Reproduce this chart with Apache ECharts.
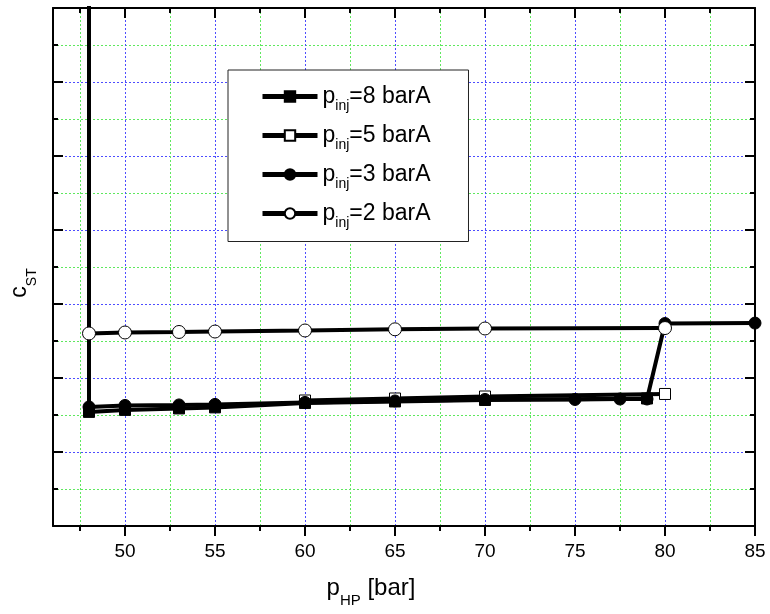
<!DOCTYPE html>
<html>
<head>
<meta charset="utf-8">
<script src="https://cdn.jsdelivr.net/npm/echarts@6/dist/echarts.min.js"></script>
<style>
  html, body { margin: 0; padding: 0; background: #fff; }
  #chart { width: 770px; height: 614px; }
</style>
</head>
<body>
<div id="chart"></div>
<script>
// Injection pressure series: p_HP [bar] against c_ST
const xP8 = [48, 50, 53, 55, 60, 65, 70, 79];
const yP8 = [0.1542, 0.1569, 0.1589, 0.1603, 0.1663, 0.1683, 0.1703, 0.1723];

const xP5 = [60, 65, 70, 80];
const yP5 = [0.1696, 0.1723, 0.1750, 0.1784];

const xP3 = [48, 48, 50, 53, 55, 60, 65, 70, 75, 77.5, 79, 80, 85];
const yP3 = [1.2, 0.1609, 0.1629, 0.1636, 0.1643, 0.1670, 0.1690, 0.1710, 0.1710, 0.1716, 0.1716, 0.2736, 0.2742];

const xP2 = [48, 50, 53, 55, 60, 65, 70, 80];
const yP2 = [0.2602, 0.2615, 0.2622, 0.2628, 0.2642, 0.2658, 0.2669, 0.2675];

const seriesNames = ['p_inj=8 barA', 'p_inj=5 barA', 'p_inj=3 barA', 'p_inj=2 barA'];

// Axis ticks and grid positions
const xMajorTicks = [50, 55, 60, 65, 70, 75, 80, 85];
const xMinorTicks = [47.5, 52.5, 57.5, 62.5, 67.5, 72.5, 77.5, 82.5];
const yMajorTicks = [0.1, 0.2, 0.3, 0.4, 0.5, 0.6];
const yMinorTicks = [0.05, 0.15, 0.25, 0.35, 0.45, 0.55, 0.65];
const X_MIN = 46, X_MAX = 85;
const Y_MIN = 0, Y_MAX = 0.7, Y_STEP = 0.1;

const FONT = '"Liberation Sans", Arial, sans-serif';
const pairs = (xs, ys) => xs.map((x, i) => [x, ys[i]]);

const axisLineStyle = { color: '#000', width: 2 };
const majorGrid = { show: true, lineStyle: { color: '#4d4dff', width: 1, type: [2, 2] } };
const minorGrid = { show: true, lineStyle: { color: '#5ee85e', width: 1, type: [2, 2] } };

const xBase = { type: 'value', min: X_MIN, max: X_MAX, gridIndex: 0 };
const yBase = { type: 'value', min: Y_MIN, max: Y_MAX, interval: Y_STEP, gridIndex: 0 };

// Axes that only carry grid lines
function gridOnlyAxis(base, position, values, style) {
  return Object.assign({}, base, {
    position: position,
    axisLine: { show: false, onZero: false },
    axisTick: { show: false, customValues: values },
    axisLabel: { show: false, customValues: values },
    splitLine: style
  });
}

const chart = echarts.init(document.getElementById('chart'), null, { renderer: 'canvas' });

function makeSeries(name, data, symbol, fill, size) {
  return {
    name: name,
    type: 'line',
    xAxisIndex: 0,
    yAxisIndex: 0,
    data: data,
    symbol: symbol,
    symbolSize: size,
    showSymbol: true,
    clip: true,
    lineStyle: { color: '#000', width: 4 },
    itemStyle: { color: fill, borderColor: '#000', borderWidth: 1 },
    emphasis: { disabled: true }
  };
}

const subRich = (main, sub, lh) => ({
  a: { fontFamily: FONT, fontSize: main, lineHeight: lh, color: '#000' },
  b: { fontFamily: FONT, fontSize: sub, lineHeight: sub, verticalAlign: 'bottom', color: '#000' }
});

chart.setOption({
  animation: false,
  backgroundColor: '#fff',
  // 702 px wide over 39 units gives whole-pixel grid lines every 2.5; 518 px tall gives 37 px per minor step
  grid: { left: 53, width: 702, top: 8, height: 518, containLabel: false },
  legend: {
    orient: 'vertical',
    left: 228,
    top: 70,
    padding: [15, 38, 11, 32],
    itemWidth: 55,
    itemHeight: 13,
    itemGap: 10.5,
    backgroundColor: '#fff',
    borderColor: '#222',
    borderWidth: 1,
    data: seriesNames,
    lineStyle: { width: 5, color: '#000' },
    formatter: function (name) {
      return '{a|p}{b|inj}{a|' + name.slice(5) + '}';
    },
    textStyle: { color: '#000', rich: subRich(23, 14, 34) }
  },
  xAxis: [
    Object.assign({}, xBase, {
      position: 'bottom',
      axisLine: { show: true, onZero: false, lineStyle: axisLineStyle },
      axisTick: { show: true, inside: false, length: 10, customValues: xMajorTicks, lineStyle: axisLineStyle },
      axisLabel: { show: true, customValues: xMajorTicks, fontFamily: FONT, fontSize: 19, color: '#000', margin: 16 },
      splitLine: { show: false },
      name: '{a|p}{b|HP}{a| [bar]}',
      nameLocation: 'middle',
      nameGap: 42,
      nameTextStyle: { padding: [0, 66, 0, 0], rich: subRich(24, 15, 40) }
    }),
    Object.assign({}, xBase, {
      position: 'bottom',
      axisLine: { show: false, onZero: false },
      axisTick: { show: true, inside: false, length: 5, customValues: xMinorTicks, lineStyle: axisLineStyle },
      axisLabel: { show: false },
      splitLine: { show: false }
    }),
    Object.assign({}, xBase, {
      position: 'top',
      axisLine: { show: true, onZero: false, lineStyle: axisLineStyle },
      axisTick: { show: true, inside: true, length: 10, customValues: xMajorTicks, lineStyle: axisLineStyle },
      axisLabel: { show: false },
      splitLine: { show: false }
    }),
    Object.assign({}, xBase, {
      position: 'top',
      axisLine: { show: false, onZero: false },
      axisTick: { show: true, inside: true, length: 5, customValues: xMinorTicks, lineStyle: axisLineStyle },
      axisLabel: { show: false },
      splitLine: { show: false }
    }),
    gridOnlyAxis(xBase, 'bottom', xMinorTicks, minorGrid),
    gridOnlyAxis(xBase, 'bottom', xMajorTicks, majorGrid)
  ],
  yAxis: [
    Object.assign({}, yBase, {
      position: 'left',
      axisLine: { show: true, onZero: false, lineStyle: axisLineStyle },
      axisTick: { show: true, inside: true, length: 10, lineStyle: axisLineStyle },
      minorTick: { show: true, splitNumber: 2, length: 5, lineStyle: axisLineStyle },
      axisLabel: { show: false },
      splitLine: { show: false },
      name: '{a|c}{b|ST}',
      nameLocation: 'middle',
      nameGap: 14,
      nameTextStyle: { padding: [0, 32, 0, 0], rich: subRich(23, 14, 38) }
    }),
    Object.assign({}, yBase, {
      position: 'right',
      axisLine: { show: true, onZero: false, lineStyle: axisLineStyle },
      axisTick: { show: true, inside: true, length: 10, lineStyle: axisLineStyle },
      minorTick: { show: true, splitNumber: 2, length: 5, lineStyle: axisLineStyle },
      axisLabel: { show: false },
      splitLine: { show: false }
    }),
    gridOnlyAxis(yBase, 'left', yMinorTicks, minorGrid),
    gridOnlyAxis(yBase, 'left', yMajorTicks, majorGrid)
  ],
  series: [
    makeSeries(seriesNames[0], pairs(xP8, yP8), 'rect', '#000', 11),
    makeSeries(seriesNames[1], pairs(xP5, yP5), 'rect', '#fff', 11),
    makeSeries(seriesNames[2], pairs(xP3, yP3), 'circle', '#000', 12),
    makeSeries(seriesNames[3], pairs(xP2, yP2), 'circle', '#fff', 13)
  ]
});
</script>
</body>
</html>
